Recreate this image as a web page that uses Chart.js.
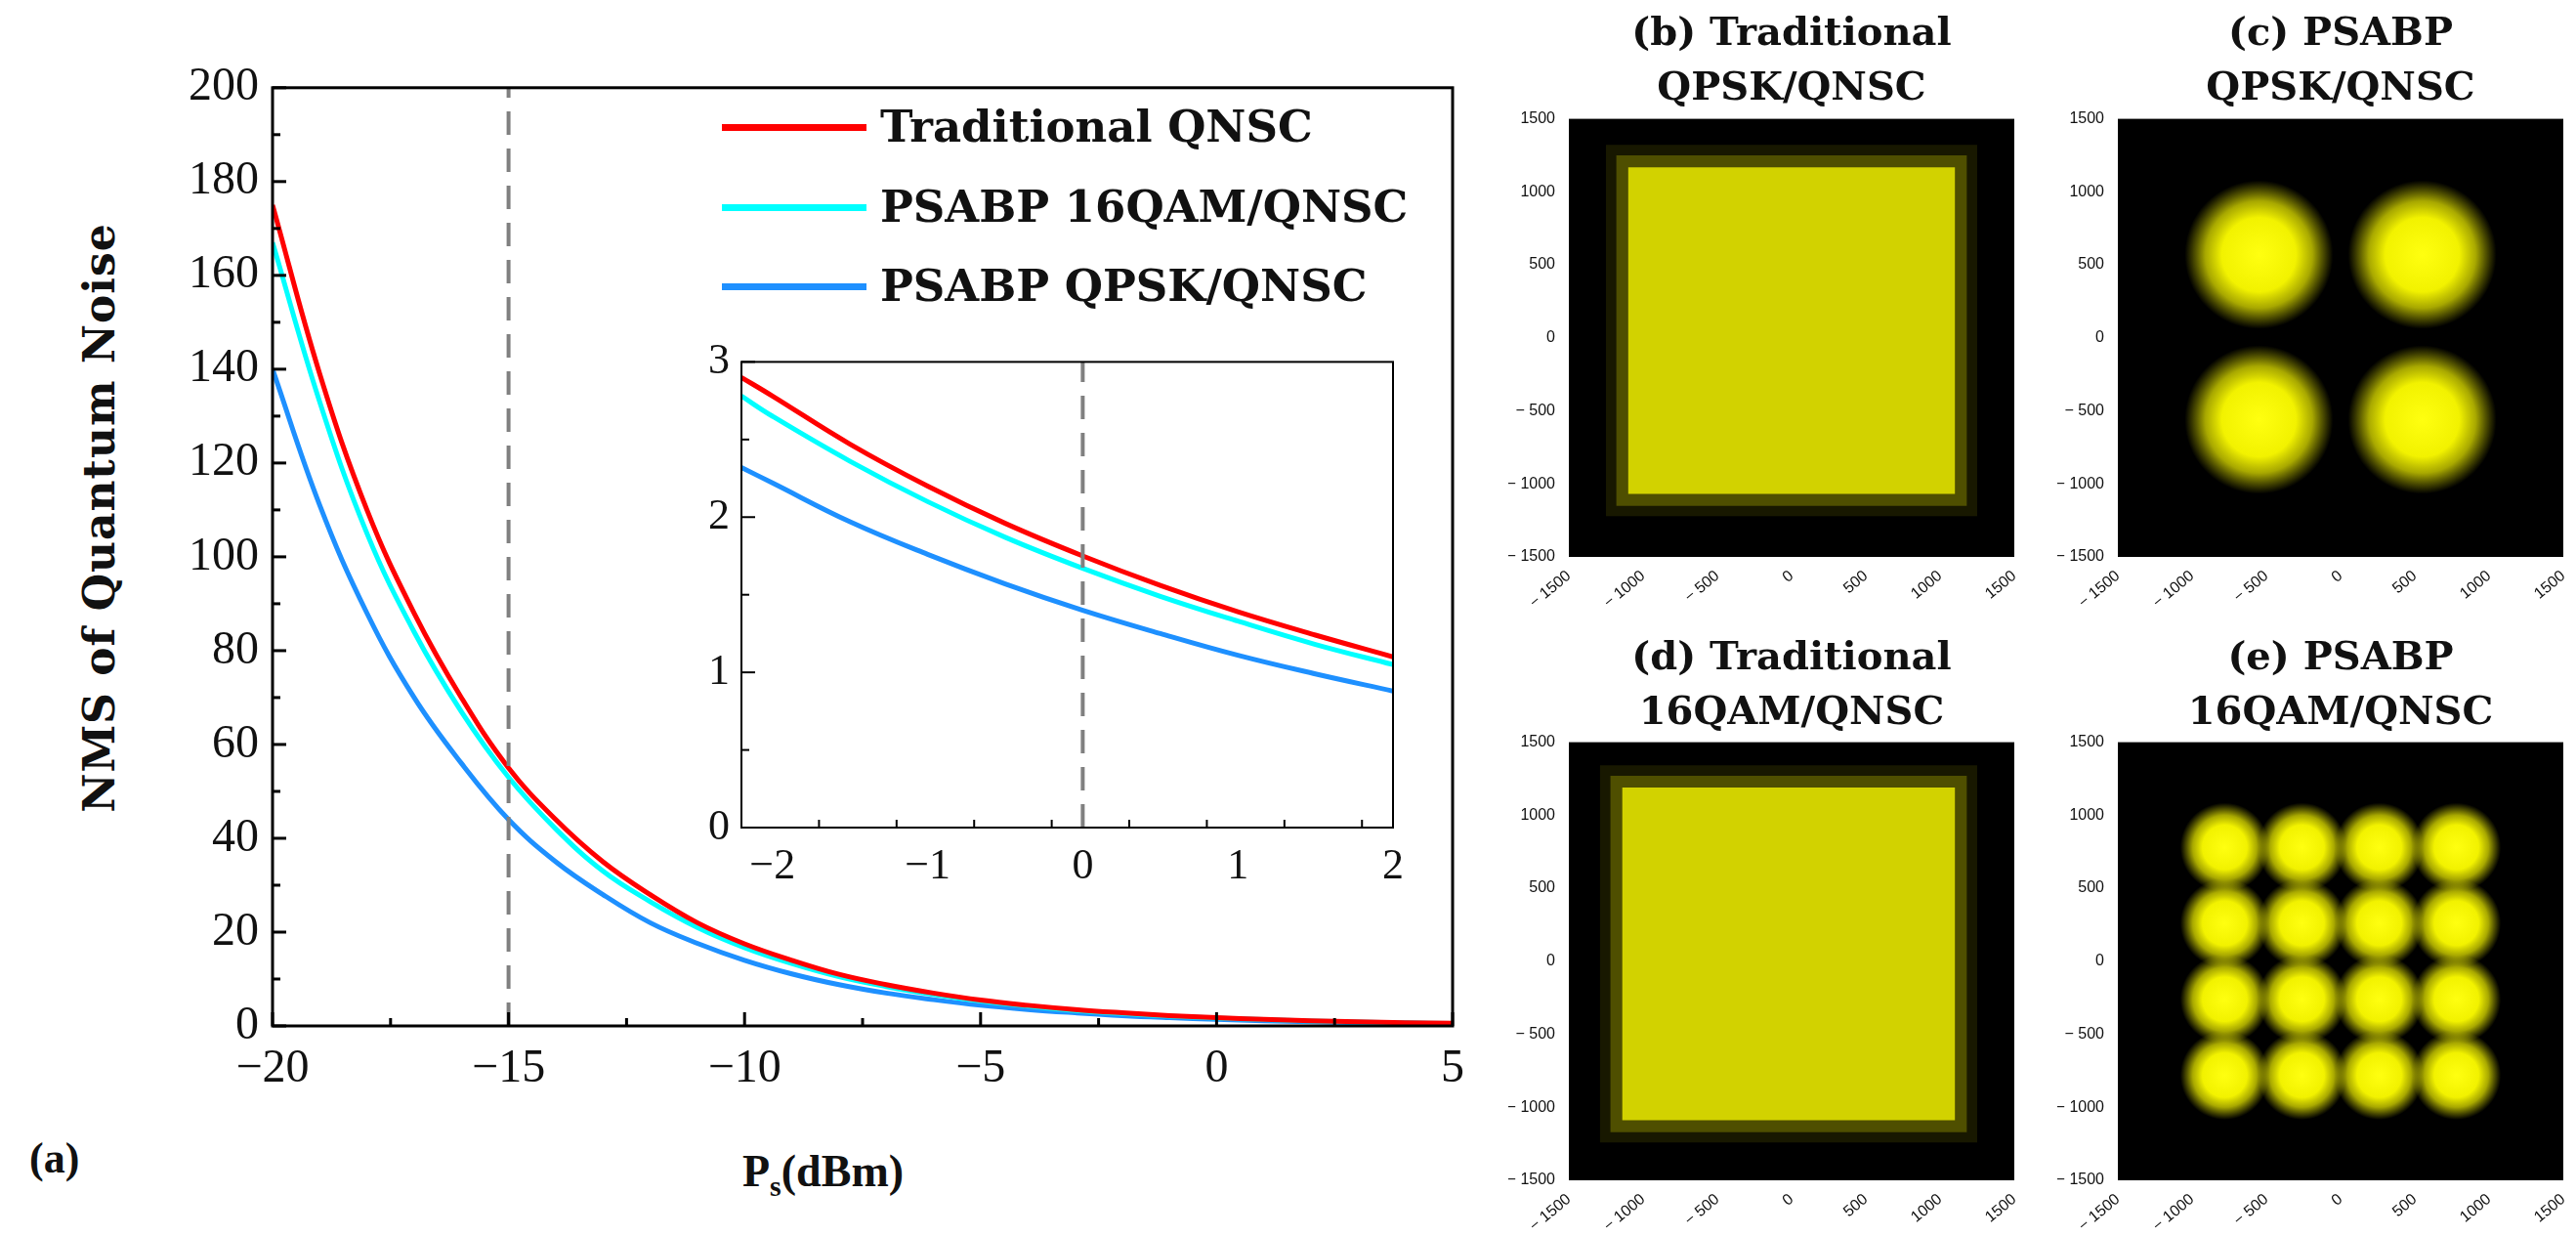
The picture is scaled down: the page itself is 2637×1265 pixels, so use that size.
<!DOCTYPE html>
<html>
<head>
<meta charset="UTF-8">
<script src="https://cdn.jsdelivr.net/npm/chart.js"></script>
<style>
  body { margin:0; width:2637px; height:1265px; background:#fff; position:relative; overflow:hidden; font-family:"DejaVu Serif", serif; }
  canvas { position:absolute; }
  .t { position:absolute; font-weight:bold; color:#111; white-space:nowrap; }
  .ttl { position:absolute; font:bold 40px "DejaVu Serif"; text-align:center; line-height:56px; width:600px; color:#111; }
  .leg { position:absolute; left:739px; width:148px; height:7px; }
  .legt { position:absolute; left:901px; font:bold 45px "DejaVu Serif"; color:#111; line-height:50px; }
  .ytl { position:absolute; left:101px; top:530px; transform:translate(-50%,-50%) rotate(-90deg); font:bold 44px "DejaVu Serif"; color:#111; white-space:nowrap; letter-spacing:1px; }
</style>
</head>
<body>
<canvas id="main"></canvas>
<canvas id="inset"></canvas>
<canvas id="pb"></canvas><canvas id="pc"></canvas><canvas id="pd"></canvas><canvas id="pe"></canvas>

<div class="ytl">NMS of Quantum Noise</div>
<div class="leg" style="top:127px;background:#ff0000"></div><div class="legt" style="top:105px">Traditional QNSC</div>
<div class="leg" style="top:209px;background:#00ffff"></div><div class="legt" style="top:187px">PSABP 16QAM/QNSC</div>
<div class="leg" style="top:290px;background:#1e90ff"></div><div class="legt" style="top:268px">PSABP QPSK/QNSC</div>

<div class="t" style="left:30px;top:1160px;font:bold 44px 'Liberation Serif'">(a)</div>
<div class="t" style="left:760px;top:1172px;font:bold 46px 'Liberation Serif'">P<sub style="font-size:30px">s</sub>(dBm)</div>

<div class="ttl" style="left:1534px;top:4px">(b) Traditional<br>QPSK/QNSC</div>
<div class="ttl" style="left:2096px;top:4px">(c) PSABP<br>QPSK/QNSC</div>
<div class="ttl" style="left:1534px;top:643px">(d) Traditional<br>16QAM/QNSC</div>
<div class="ttl" style="left:2096px;top:643px">(e) PSABP<br>16QAM/QNSC</div>

<script>
// main chart data
const ps = [-20,-19,-18,-17,-16,-15,-14,-13,-12,-11,-10,-9,-8,-7,-6,-5,-4,-3,-2,-1,0,1,2,3,4,5];
const tradQNSC = [175,139,110,88,70,55,44,35,28,22,17.5,14,11,8.8,7,5.5,4.4,3.5,2.8,2.2,1.75,1.4,1.1,0.88,0.7,0.55];
const qam16 = [167,133,105,84,67,53,42,33,26.5,21,16.7,13.3,10.5,8.4,6.7,5.3,4.2,3.3,2.65,2.1,1.67,1.33,1.05,0.84,0.67,0.53];
const qpsk = [140,111,88,70,56,44,35,28,22,17.6,14,11.1,8.8,7,5.6,4.4,3.5,2.8,2.2,1.76,1.4,1.11,0.88,0.7,0.56,0.44];
// inset data
const psZoom = [-2.2,-2,-1.5,-1,-0.5,0,0.5,1,1.5,2];
const tradZoom = [2.9,2.78,2.47,2.2,1.96,1.75,1.56,1.39,1.24,1.1];
const qam16Zoom = [2.78,2.65,2.36,2.1,1.87,1.67,1.49,1.33,1.18,1.05];
const qpskZoom = [2.32,2.22,1.97,1.76,1.57,1.4,1.25,1.11,0.99,0.88];
// constellation panels: noise region centres and half widths
const tradQpskBox = {x:0, y:50, half:1100};
const tradQamBox = {x:-20, y:50, half:1120};
const qpskCx = [-550,550,-550,550];
const qpskCy = [570,570,-560,-560];
const qpskSpread = 500;
const qamLevels = [-780,-260,260,780];
const qamSpread = 300;

const red='#ff0000', cyan='#00ffff', blue='#1e90ff';
const pts = (xs, ys) => xs.map((x,i)=>({x, y:ys[i]}));

const frame = {
  id:'frame',
  afterDraw(c) {
    const a=c.chartArea, g=c.ctx;
    g.save(); g.strokeStyle='#000'; g.lineWidth=c.options.frameW||3;
    g.strokeRect(a.left,a.top,a.right-a.left,a.bottom-a.top);
    const mk=c.options.marks;
    if (mk) {
      const xs=c.scales.x, ys=c.scales.y;
      for (let v=xs.min; v<=xs.max+1e-9; v+=mk.xm) {
        const p=xs.getPixelForValue(v), major=Math.abs(v/mk.xM-Math.round(v/mk.xM))<1e-6;
        g.beginPath(); g.moveTo(p,a.bottom); g.lineTo(p,a.bottom-(major?14:8)); g.stroke();
      }
      for (let v=ys.min; v<=ys.max+1e-9; v+=mk.ym) {
        const p=ys.getPixelForValue(v), major=Math.abs(v/mk.yM-Math.round(v/mk.yM))<1e-6;
        g.beginPath(); g.moveTo(a.left,p); g.lineTo(a.left+(major?14:8),p); g.stroke();
      }
    }
    g.restore();
  }
};
const bg = {
  id:'bg',
  beforeDraw(c) {
    const a=c.chartArea, g=c.ctx;
    g.save(); g.fillStyle=c.options.plotBg||'#fff';
    g.fillRect(a.left,a.top,a.right-a.left,a.bottom-a.top); g.restore();
  }
};
// soft noise clouds around constellation centres, placed by the chart's own points
const glow = {
  id:'glow',
  afterDatasetsDraw(c) {
    const g=c.ctx, xs=c.scales.x;
    c.data.datasets.forEach((ds,i)=>{
      if (!ds.spread) return;
      const R=Math.abs(xs.getPixelForValue(ds.spread)-xs.getPixelForValue(0));
      c.getDatasetMeta(i).data.forEach(p=>{
        const gr=g.createRadialGradient(p.x,p.y,0,p.x,p.y,R);
        gr.addColorStop(0,'#ffff10'); gr.addColorStop(0.5,'#f2f200');
        gr.addColorStop(0.72,'rgba(225,225,0,0.75)'); gr.addColorStop(1,'rgba(200,200,0,0)');
        g.save(); g.fillStyle=gr; g.beginPath(); g.arc(p.x,p.y,R,0,Math.PI*2); g.fill(); g.restore();
      });
    });
  }
};

function place(id, left, top, w, h) {
  const el=document.getElementById(id);
  el.style.left=left+'px'; el.style.top=top+'px';
  el.style.width=w+'px'; el.style.height=h+'px';
  el.width=w; el.height=h;
  return el;
}

function curve(data, color, w) {
  return {data, borderColor:color, borderWidth:w, pointRadius:0, tension:0.4, fill:false};
}
function dash(x, y0, y1) {
  return {data:[{x,y:y0},{x,y:y1}], borderColor:'#808080', borderWidth:4, borderDash:[24,14], pointRadius:0};
}

// main chart
new Chart(place('main',179,55,1328,1075), {
  type:'line',
  data:{datasets:[
    dash(-15,0,200),
    curve(pts(ps,tradQNSC),red,5),
    curve(pts(ps,qam16),cyan,5),
    curve(pts(ps,qpsk),blue,5)
  ]},
  options:{
    responsive:false, animation:false, devicePixelRatio:1,
    layout:{padding:{top:20,right:20}},
    plugins:{legend:{display:false},tooltip:{enabled:false}},
    frameW:3, marks:{xm:2.5,xM:5,ym:10,yM:20},
    scales:{
      x:{type:'linear',min:-20,max:5,
         ticks:{stepSize:5,color:'#111',font:{family:'Liberation Serif',size:48},padding:8,callback:v=>String(v).replace('-','\u2212')},
         grid:{display:false},border:{display:false},
         afterFit:s=>{s.height=80;}},
      y:{min:0,max:200,
         ticks:{stepSize:20,color:'#111',font:{family:'Liberation Serif',size:48},padding:6},
         grid:{display:false},border:{display:false},
         afterFit:s=>{s.width=100;}}
    }
  },
  plugins:[frame]
});

// inset
new Chart(place('inset',704,340,739,565), {
  type:'line',
  data:{datasets:[
    dash(0,0,3),
    curve(pts(psZoom,tradZoom),red,5),
    curve(pts(psZoom,qam16Zoom),cyan,5),
    curve(pts(psZoom,qpskZoom),blue,5)
  ]},
  options:{
    responsive:false, animation:false, devicePixelRatio:1,
    layout:{padding:{top:17,right:15}},
    plugins:{legend:{display:false},tooltip:{enabled:false}},
    plotBg:'#fff', frameW:2, marks:{xm:0.5,xM:1,ym:0.5,yM:1},
    scales:{
      x:{type:'linear',min:-2.2,max:2,afterBuildTicks:s=>{s.ticks=[-2,-1,0,1,2].map(v=>({value:v}));},
         ticks:{color:'#111',font:{family:'Liberation Serif',size:44},padding:6,callback:v=>String(v).replace('-','\u2212')},
         grid:{display:false},border:{display:false},afterFit:s=>{s.height=58;}},
      y:{min:0,max:3,
         ticks:{stepSize:1,color:'#111',font:{family:'Liberation Serif',size:44},padding:4},
         grid:{display:false},border:{display:false},afterFit:s=>{s.width=55;}}
    }
  },
  plugins:[bg,frame]
});

// constellation panels
function pxR(c, r) { const s=c.chart.scales.x; return Math.abs(s.getPixelForValue(r)-s.getPixelForValue(0)); }
function boxSet(b, grow, color) {
  return {data:[{x:b.x,y:b.y}], pointStyle:'rect', backgroundColor:color, borderWidth:0,
          pointRadius:c=>pxR(c,b.half+grow)*Math.SQRT2};
}
function blobSet(xs, ys, r) {
  return {data:pts(xs,ys), pointRadius:0, spread:r};
}
const sTicks = {stepSize:500,color:'#111',font:{family:'Liberation Sans',size:16},
  callback:v=>v<0?'\u2212 '+Math.abs(v):String(v)};
function panel(id, left, top, sets) {
  new Chart(place(id,left-62,top-10,62+456+35,10+454+66), {
    type:'scatter',
    data:{datasets:sets},
    options:{
      responsive:false, animation:false, devicePixelRatio:1,
      layout:{padding:{top:10,right:35}},
      plugins:{legend:{display:false},tooltip:{enabled:false}},
      plotBg:'#000',
      scales:{
        x:{min:-1500,max:1500,ticks:{...sTicks,minRotation:40,maxRotation:40,padding:2},
           grid:{display:false},border:{display:false},afterFit:s=>{s.height=66;}},
        y:{min:-1500,max:1500,ticks:{...sTicks,padding:6},
           grid:{display:false},border:{display:false},afterFit:s=>{s.width=62;}}
      }
    },
    plugins:[bg,glow]
  });
}
const qamX=[], qamY=[];
qamLevels.forEach(y=>qamLevels.forEach(x=>{qamX.push(x);qamY.push(y);}));

const boxes = b => [boxSet(b,150,'rgba(200,200,0,0.12)'),boxSet(b,80,'rgba(210,210,0,0.3)'),boxSet(b,0,'#d6d600')];
panel('pb',1606,116,boxes(tradQpskBox));
panel('pc',2168,116,[blobSet(qpskCx,qpskCy,qpskSpread)]);
panel('pd',1606,754,boxes(tradQamBox));
panel('pe',2168,754,[blobSet(qamX,qamY,qamSpread)]);
</script>
</body>
</html>
